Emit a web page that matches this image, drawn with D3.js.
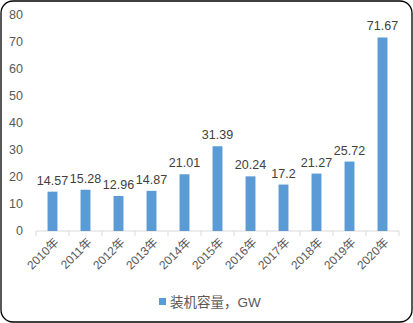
<!DOCTYPE html>
<html><head><meta charset="utf-8">
<script src="https://cdn.jsdelivr.net/npm/d3@7/dist/d3.min.js"></script>
<style>body{margin:0;background:#fff;}svg{display:block;}</style>
</head><body>
<script>
const categories = ["2010年","2011年","2012年","2013年","2014年","2015年","2016年","2017年","2018年","2019年","2020年"];
const values = [14.57,15.28,12.96,14.87,21.01,31.39,20.24,17.2,21.27,25.72,71.67];
const labels = ["14.57","15.28","12.96","14.87","21.01","31.39","20.24","17.2","21.27","25.72","71.67"];
const yTicks = [0,10,20,30,40,50,60,70,80];
const seriesName = "装机容量，GW";

const W = 413, H = 323;
const svg = d3.select("body").append("svg").attr("width", W).attr("height", H);
svg.append("rect").attr("x",1).attr("y",1).attr("width",W-2).attr("height",H-2)
  .attr("rx",12).attr("fill","#fff").attr("stroke","#000").attr("stroke-width",1.3);

const font = "'Liberation Sans', Arial, sans-serif";
const x = d3.scaleBand().domain(categories).range([36,399]).paddingInner(0.7).paddingOuter(0.35);
const y = d3.scaleLinear().domain([0,80]).range([231,15]);

// y axis labels
svg.append("g").selectAll("text").data(yTicks).join("text")
  .attr("x",23).attr("y",d=>y(d)).attr("dy","0.35em").attr("text-anchor","end")
  .attr("font-family",font).attr("font-size",12.5).attr("fill","#595959").text(d=>d);

// x axis
const xa = svg.append("g").attr("transform","translate(0,231)");
xa.append("line").attr("x1",36).attr("x2",399).attr("stroke","#d9d9d9").attr("stroke-width",1);
const step = x.step();
const tickX = d3.range(categories.length+1).map(i=>36+i*(363/categories.length));
xa.selectAll("line.t").data(tickX).join("line").attr("class","t")
  .attr("x1",d=>d).attr("x2",d=>d).attr("y1",0).attr("y2",5).attr("stroke","#d9d9d9");

// bars
svg.append("g").selectAll("rect").data(values).join("rect")
  .attr("x",(d,i)=>x(categories[i])).attr("width",x.bandwidth())
  .attr("y",d=>y(d)).attr("height",d=>y(0)-y(d)).attr("fill","#5B9BD5");

// value labels
svg.append("g").selectAll("text").data(values).join("text")
  .attr("x",(d,i)=>x(categories[i])+x.bandwidth()/2).attr("y",d=>y(d)-7)
  .attr("text-anchor","middle").attr("font-family",font).attr("font-size",12.5)
  .attr("fill","#404040").text((d,i)=>labels[i]);

// x labels rotated
svg.append("g").selectAll("text").data(categories).join("text")
  .attr("transform",(d)=>`translate(${x(d)+x.bandwidth()/2+4},${240}) rotate(-45)`)
  .attr("text-anchor","end").attr("dy","0.35em")
  .attr("font-family","'Liberation Sans', 'Noto Sans CJK SC', sans-serif").attr("font-size",12)
  .attr("fill","#595959").text(d=>d);

// legend
svg.append("rect").attr("x",159).attr("y",298).attr("width",7).attr("height",7).attr("fill","#5B9BD5");
svg.append("text").attr("x",170).attr("y",302).attr("dy","0.35em")
  .attr("font-family","'Liberation Sans', 'Noto Sans CJK SC', sans-serif").attr("font-size",13.5)
  .attr("fill","#595959").text(seriesName);
</script>
</body></html>
